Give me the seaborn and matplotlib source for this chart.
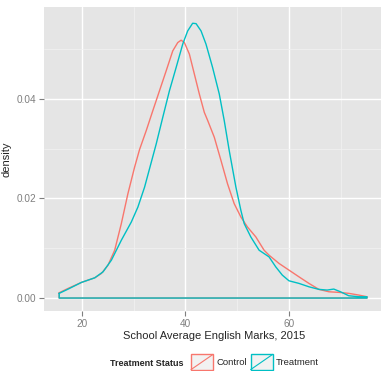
import matplotlib
matplotlib.use("Agg")
import matplotlib.pyplot as plt
import pandas as pd
import seaborn as sns
from matplotlib.legend_handler import HandlerBase
from matplotlib.patches import Rectangle, Patch
from matplotlib.lines import Line2D
from matplotlib.ticker import MultipleLocator

# density curves (x = marks, y = density)
control_x = [15.63, 17.37, 19.94, 22.5, 23.79, 25.06, 26.35, 27.63, 28.9, 30.19,
             31.15, 32.44, 33.71, 35.0, 36.29, 37.56, 38.52, 39.17, 39.81, 40.77,
             41.73, 42.69, 43.65, 44.29, 45.58, 46.87, 48.13, 49.42, 50.71, 51.98,
             53.6, 55.19, 56.15, 58.08, 60.0, 61.92, 63.85, 65.77, 67.69, 69.62,
             71.54, 73.46, 75.06]
control_y = [0.00106, 0.00194, 0.00314, 0.00406, 0.00494, 0.0066, 0.0096, 0.01494,
             0.02094, 0.02626, 0.0298, 0.0336, 0.0376, 0.0416, 0.0456, 0.0496,
             0.05126, 0.05174, 0.05126, 0.04894, 0.04494, 0.04094, 0.03726, 0.03566,
             0.03226, 0.0276, 0.02294, 0.01894, 0.01626, 0.01426, 0.01226, 0.0096,
             0.0086, 0.00694, 0.0056, 0.00426, 0.00294, 0.00174, 0.00126, 0.00114,
             0.00094, 0.0006, 0.00026]

treat_x = [15.63, 17.37, 19.94, 22.5, 24.1, 25.71, 27.63, 29.56, 30.83, 32.12,
           33.4, 34.37, 35.63, 36.92, 38.21, 39.48, 40.44, 41.4, 42.06, 43.02,
           43.98, 45.25, 46.54, 47.5, 48.46, 49.75, 50.71, 51.35, 52.63, 54.23,
           56.15, 57.44, 58.71, 60.0, 61.92, 63.85, 65.77, 67.37, 68.65, 69.94,
           71.54, 73.46, 75.06]
treat_y = [0.00094, 0.0018, 0.00314, 0.00406, 0.00526, 0.0076, 0.0116, 0.01526,
           0.01826, 0.02226, 0.0272, 0.03094, 0.03626, 0.0416, 0.04626, 0.05094,
           0.0536, 0.05514, 0.05506, 0.0536, 0.05094, 0.04626, 0.04094, 0.0356,
           0.0296, 0.02226, 0.0176, 0.01494, 0.01226, 0.0096, 0.00826, 0.00626,
           0.0046, 0.00346, 0.00294, 0.00226, 0.00174, 0.0016, 0.0018, 0.00126,
           0.00046, 0.00026, 0.00026]

groups = ["Control", "Treatment"]
colors = {"Control": "#F8766D", "Treatment": "#00BFC4"}


def closed(xs, ys, name):
    # ggplot draws the density as a closed outline along the baseline
    xs = list(xs) + [xs[-1], xs[0], xs[0]]
    ys = list(ys) + [0.0, 0.0, ys[0]]
    return pd.DataFrame({"x": xs, "y": ys, "group": name})


df = pd.concat([closed(control_x, control_y, "Control"),
                closed(treat_x, treat_y, "Treatment")], ignore_index=True)

sns.set_theme(style="darkgrid")
plt.rcParams["font.family"] = ["Liberation Sans", "DejaVu Sans"]

fig = plt.figure(figsize=(3.81, 3.71), dpi=100)
ax = fig.add_axes([44 / 381, 1 - 311 / 371, 1 - 44 / 381 + 0.01, (311 - 7) / 371])
ax.set_facecolor("#E5E5E5")

for g in groups:
    sub = df[df["group"] == g]
    sns.lineplot(data=sub, x="x", y="y", sort=False, estimator=None,
                 color=colors[g], lw=1.0, ax=ax, legend=False)

ax.set_xlim(12.7, 78.5)
ax.set_ylim(-0.0026, 0.0584)
ax.xaxis.set_major_locator(MultipleLocator(20))
ax.xaxis.set_minor_locator(MultipleLocator(10))
ax.yaxis.set_major_locator(MultipleLocator(0.02))
ax.yaxis.set_minor_locator(MultipleLocator(0.01))
ax.set_yticklabels([f"{v:.2f}" for v in ax.get_yticks()])
ax.grid(which="major", color="white", lw=1.0)
ax.grid(which="minor", color="#F2F2F2", lw=0.5)
ax.set_axisbelow(True)
for s in ax.spines.values():
    s.set_visible(False)
ax.tick_params(which="major", length=3.5, width=0.8, color="#7F7F7F",
               labelcolor="#7F7F7F", labelsize=7.2, pad=2, left=True, bottom=True)
ax.tick_params(which="minor", length=0)
ax.set_xlabel("School Average English Marks, 2015", fontsize=8, labelpad=2)
ax.set_ylabel("density", fontsize=8, labelpad=4)


class BoxDiag(HandlerBase):
    def create_artists(self, legend, orig, xd, yd, w, h, fontsize, trans):
        c = orig.get_edgecolor()
        r = Rectangle((-xd, -yd), w, h, facecolor="#F2F2F2", edgecolor=c,
                      lw=1.0, transform=trans)
        ln = Line2D([-xd, -xd + w], [-yd, -yd + h], color=c, lw=0.8, transform=trans)
        return [r, ln]


handles = [Patch(facecolor="#F2F2F2", edgecolor=colors[g]) for g in groups]
fig.text(147 / 381, 1 - 363 / 371, "Treatment Status", fontsize=6.5,
         fontweight="bold", ha="center", va="center")
fig.legend(handles, groups, handler_map={Patch: BoxDiag()}, ncol=2,
           loc="center left", bbox_to_anchor=(191 / 381, 1 - 362 / 371),
           frameon=False, fontsize=6.8, handlelength=2.33, handleheight=2.1,
           handletextpad=0.32, columnspacing=0.42, borderpad=0, borderaxespad=0)

fig.savefig("out.png", dpi=100)
